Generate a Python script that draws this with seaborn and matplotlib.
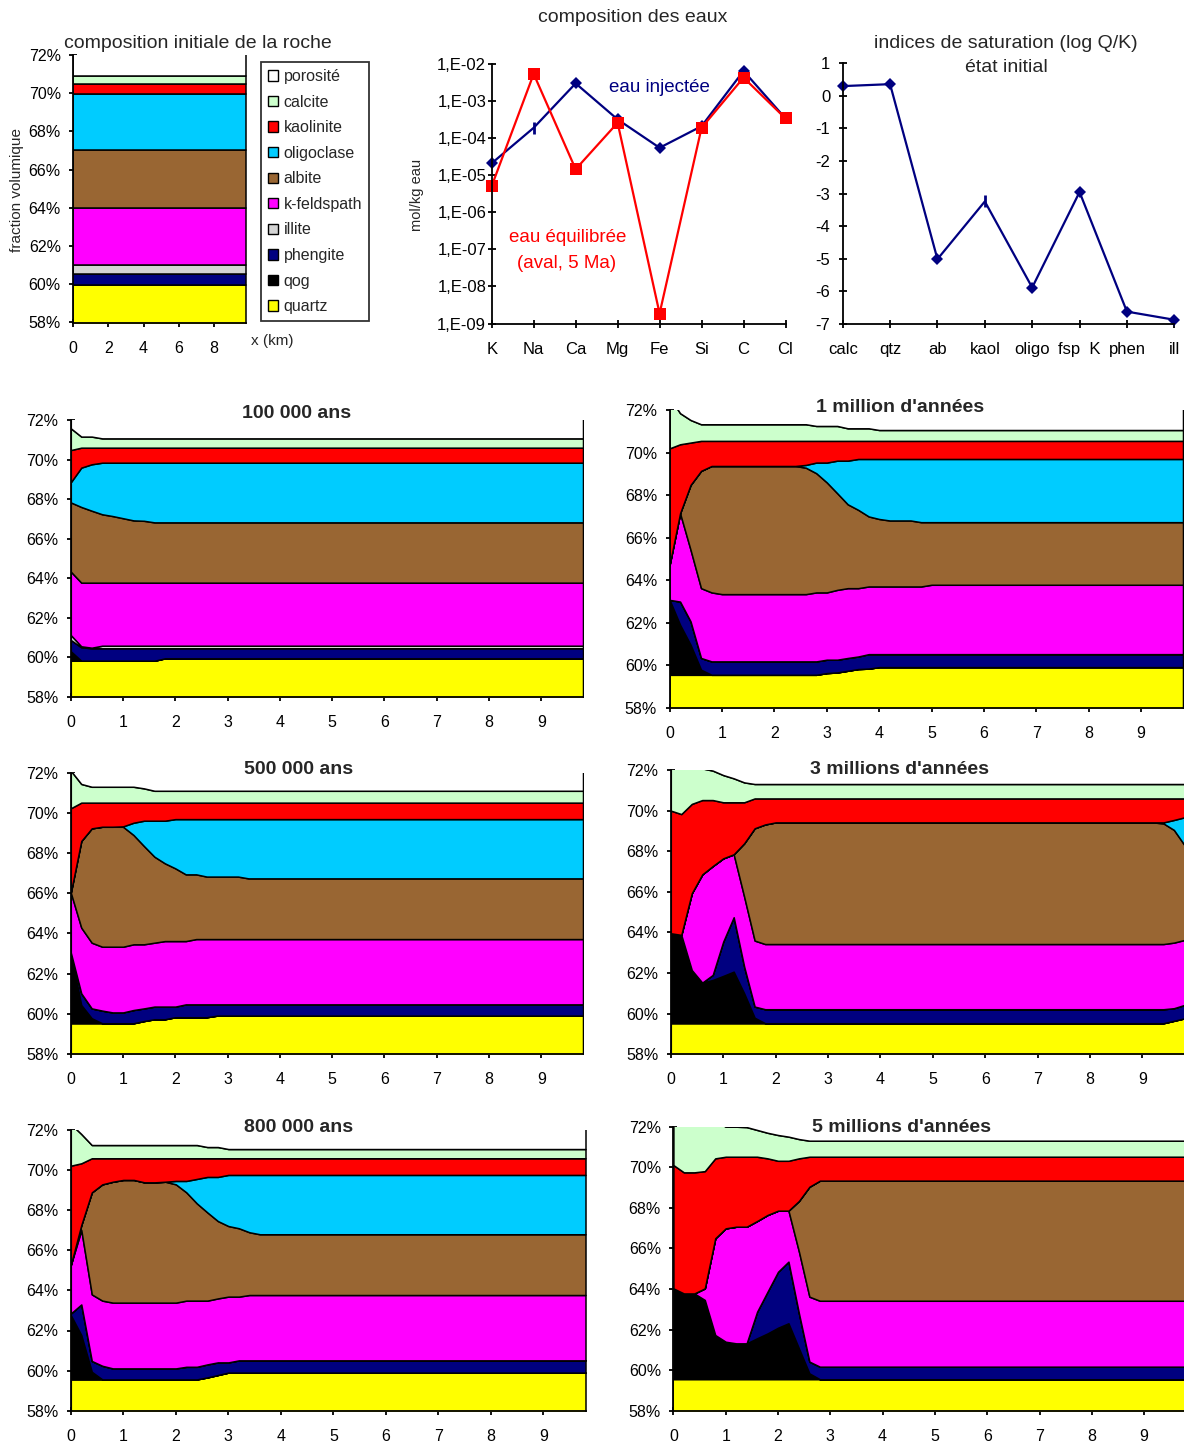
import numpy as np
import pandas as pd
import matplotlib
matplotlib.use("Agg")
import matplotlib.pyplot as plt
import seaborn as sns
from matplotlib.patches import Patch

sns.set_style("ticks")
plt.rcParams['font.family'] = ['Liberation Sans', 'DejaVu Sans']

W, H = 1184, 1443

# ---------------- data ----------------
MINERALS = ['quartz', 'qog', 'phengite', 'illite', 'k-feldspath', 'albite',
            'oligoclase', 'kaolinite', 'calcite', 'porosité']
COLORS = ['#FFFF00', '#000000', '#000080', '#D4D4D4', '#FF00FF', '#996633',
          '#00CCFF', '#FF0000', '#CCFFCC', '#FFFFFF']

# initial rock composition (cumulative top of each layer, %)
X0 = [0, 9.8]
INIT_TOPS = [59.97, 59.97, 60.53, 61.03, 63.98, 67.03, 69.94, 70.48, 70.90]

# 100 000 ans
X1 = [0, 0.2, 0.4, 0.6, 0.8, 1.0, 1.2, 1.4, 1.6, 1.8, 9.8]
Q1 = [59.82, 59.82, 59.82, 59.82, 59.82, 59.82, 59.82, 59.82, 59.82, 59.94, 59.94]
G1 = [60.30, 59.82, 59.82, 59.82, 59.82, 59.82, 59.82, 59.82, 59.82, 59.94, 59.94]
PH1 = [60.87, 60.50, 60.45, 60.45, 60.45, 60.45, 60.45, 60.45, 60.45, 60.45, 60.45]
IL1 = [61.12, 60.55, 60.48, 60.58, 60.58, 60.58, 60.58, 60.58, 60.58, 60.58, 60.58]
KF1 = [64.33, 63.77, 63.77, 63.77, 63.77, 63.77, 63.77, 63.77, 63.77, 63.77, 63.77]
AB1 = [67.83, 67.60, 67.41, 67.23, 67.14, 67.03, 66.92, 66.90, 66.82, 66.82, 66.82]
OL1 = [68.85, 69.59, 69.76, 69.84, 69.84, 69.84, 69.84, 69.84, 69.84, 69.84, 69.84]
KA1 = [70.48, 70.60, 70.60, 70.60, 70.60, 70.60, 70.60, 70.60, 70.60, 70.60, 70.60]
CA1 = [71.58, 71.16, 71.16, 71.07, 71.07, 71.07, 71.07, 71.07, 71.07, 71.07, 71.07]

# 1 million d'annees
X2 = [0, 0.2, 0.4, 0.6, 0.8, 1.0, 1.2, 1.4, 1.6, 1.8, 2.0, 2.2, 2.4, 2.6, 2.8,
      3.0, 3.2, 3.4, 3.6, 3.8, 4.0, 4.2, 4.4, 4.6, 4.8, 5.0, 9.8]
Q2 = [59.56, 59.56, 59.56, 59.56, 59.56, 59.56, 59.56, 59.56, 59.56, 59.56, 59.56, 59.56, 59.56, 59.56, 59.56,
      59.64, 59.67, 59.75, 59.83, 59.85, 59.92, 59.92, 59.92, 59.92, 59.92, 59.92, 59.92]
G2 = [63.08, 61.91, 60.97, 59.80, 59.56, 59.56, 59.56, 59.56, 59.56, 59.56, 59.56, 59.56, 59.56, 59.56, 59.56,
      59.64, 59.67, 59.75, 59.83, 59.85, 59.92, 59.92, 59.92, 59.92, 59.92, 59.92, 59.92]
PH2 = [63.08, 63.00, 62.07, 60.35, 60.19, 60.19, 60.19, 60.19, 60.19, 60.19, 60.19, 60.19, 60.19, 60.19, 60.19,
       60.27, 60.27, 60.35, 60.42, 60.53, 60.53, 60.53, 60.53, 60.53, 60.53, 60.53, 60.53]
IL2 = PH2
KF2 = [64.73, 67.15, 65.43, 63.63, 63.43, 63.35, 63.35, 63.35, 63.35, 63.35, 63.35, 63.35, 63.35, 63.35, 63.43,
       63.43, 63.55, 63.63, 63.63, 63.71, 63.71, 63.71, 63.71, 63.71, 63.71, 63.79, 63.79]
AB2 = [64.73, 67.15, 68.48, 69.14, 69.37, 69.37, 69.37, 69.37, 69.37, 69.37, 69.37, 69.37, 69.37, 69.29, 69.03,
       68.60, 68.09, 67.57, 67.31, 67.00, 66.88, 66.81, 66.81, 66.81, 66.73, 66.73, 66.73]
OL2 = [64.73, 67.15, 68.48, 69.14, 69.37, 69.37, 69.37, 69.37, 69.37, 69.37, 69.37, 69.37, 69.37, 69.42, 69.53,
       69.53, 69.62, 69.62, 69.70, 69.70, 69.70, 69.70, 69.70, 69.70, 69.70, 69.70, 69.70]
KA2 = [70.20, 70.39, 70.47, 70.55, 70.55, 70.55, 70.55, 70.55, 70.55, 70.55, 70.55, 70.55, 70.55, 70.55, 70.55,
       70.55, 70.55, 70.55, 70.55, 70.55, 70.55, 70.55, 70.55, 70.55, 70.55, 70.55, 70.55]
CA2 = [72.60, 71.85, 71.53, 71.33, 71.33, 71.33, 71.33, 71.33, 71.33, 71.33, 71.33, 71.33, 71.33, 71.33, 71.25,
       71.25, 71.25, 71.14, 71.14, 71.14, 71.06, 71.06, 71.06, 71.06, 71.06, 71.06, 71.06]

# 500 000 ans
X3 = [0, 0.2, 0.4, 0.6, 0.8, 1.0, 1.2, 1.4, 1.6, 1.8, 2.0, 2.2, 2.4, 2.6, 2.8, 3.0, 3.2, 3.4, 9.8]
Q3 = [59.53, 59.53, 59.53, 59.53, 59.53, 59.53, 59.53, 59.64, 59.73, 59.73, 59.83, 59.83, 59.83, 59.83,
      59.91, 59.91, 59.91, 59.91, 59.91]
G3 = [63.00, 60.44, 59.78, 59.53, 59.53, 59.53, 59.53, 59.64, 59.73, 59.73, 59.83, 59.83, 59.83, 59.83,
      59.91, 59.91, 59.91, 59.91, 59.91]
PH3 = [63.05, 61.02, 60.27, 60.16, 60.07, 60.07, 60.19, 60.27, 60.36, 60.36, 60.36, 60.47, 60.47, 60.47,
       60.47, 60.47, 60.47, 60.47, 60.47]
IL3 = PH3
KF3 = [66.03, 64.29, 63.54, 63.34, 63.34, 63.34, 63.46, 63.46, 63.54, 63.62, 63.62, 63.62, 63.72, 63.72,
       63.72, 63.72, 63.72, 63.72, 63.72]
AB3 = [66.03, 68.60, 69.23, 69.31, 69.31, 69.31, 68.90, 68.35, 67.82, 67.49, 67.24, 66.94, 66.94, 66.83,
       66.83, 66.83, 66.83, 66.74, 66.74]
OL3 = [66.03, 68.60, 69.23, 69.31, 69.31, 69.33, 69.51, 69.61, 69.61, 69.61, 69.69, 69.69, 69.69, 69.69,
       69.69, 69.69, 69.69, 69.69, 69.69]
KA3 = [70.23, 70.51, 70.51, 70.51, 70.51, 70.51, 70.51, 70.51, 70.51, 70.51, 70.51, 70.51, 70.51, 70.51,
       70.51, 70.51, 70.51, 70.51, 70.51]
CA3 = [72.10, 71.44, 71.30, 71.30, 71.30, 71.30, 71.30, 71.22, 71.10, 71.10, 71.10, 71.10, 71.10, 71.10,
       71.10, 71.10, 71.10, 71.10, 71.10]

# 3 millions d'annees
X4 = [0, 0.2, 0.4, 0.6, 0.8, 1.0, 1.2, 1.4, 1.6, 1.8, 2.0, 9.2, 9.4, 9.6, 9.8]
Q4 = [59.53, 59.53, 59.53, 59.53, 59.53, 59.53, 59.53, 59.53, 59.53, 59.53, 59.53, 59.53, 59.53, 59.65, 59.77]
G4 = [63.96, 63.88, 62.15, 61.53, 61.66, 61.86, 62.07, 61.00, 59.80, 59.53, 59.53, 59.53, 59.53, 59.65, 59.77]
PH4 = [63.96, 63.88, 62.15, 61.53, 61.91, 63.55, 64.75, 62.32, 60.35, 60.22, 60.22, 60.22, 60.22, 60.27, 60.43]
IL4 = PH4
KF4 = [63.96, 63.88, 65.93, 66.86, 67.27, 67.65, 67.85, 65.76, 63.60, 63.43, 63.43, 63.43, 63.43, 63.50, 63.63]
AB4 = [63.96, 63.88, 65.93, 66.86, 67.27, 67.65, 67.85, 68.39, 69.13, 69.32, 69.42, 69.42, 69.37, 69.05, 68.31]
OL4 = [63.96, 63.88, 65.93, 66.86, 67.27, 67.65, 67.85, 68.39, 69.13, 69.32, 69.42, 69.42, 69.42, 69.54, 69.67]
KA4 = [70.00, 69.83, 70.33, 70.52, 70.52, 70.41, 70.41, 70.41, 70.60, 70.60, 70.60, 70.60, 70.60, 70.60, 70.60]
CA4 = [72.50, 72.40, 72.30, 72.08, 71.97, 71.75, 71.59, 71.39, 71.31, 71.31, 71.31, 71.31, 71.31, 71.31, 71.31]

# 800 000 ans
X5 = [0, 0.2, 0.4, 0.6, 0.8, 1.0, 1.2, 1.4, 1.6, 1.8, 2.0, 2.2, 2.4, 2.6, 2.8, 3.0, 3.2, 3.4, 3.6, 9.8]
Q5 = [59.56, 59.56, 59.56, 59.56, 59.56, 59.56, 59.56, 59.56, 59.56, 59.56, 59.56, 59.56, 59.56, 59.66,
      59.78, 59.90, 59.90, 59.90, 59.90, 59.90]
G5 = [62.77, 61.77, 59.94, 59.56, 59.56, 59.56, 59.56, 59.56, 59.56, 59.56, 59.56, 59.56, 59.56, 59.66,
      59.78, 59.90, 59.90, 59.90, 59.90, 59.90]
PH5 = [62.85, 63.30, 60.48, 60.24, 60.11, 60.11, 60.11, 60.11, 60.11, 60.11, 60.11, 60.19, 60.19, 60.31,
       60.41, 60.41, 60.51, 60.51, 60.51, 60.51]
IL5 = PH5
KF5 = [65.27, 67.01, 63.80, 63.49, 63.39, 63.39, 63.39, 63.39, 63.39, 63.39, 63.39, 63.49, 63.49, 63.49,
       63.60, 63.69, 63.69, 63.77, 63.77, 63.77]
AB5 = [65.27, 67.26, 68.89, 69.29, 69.42, 69.51, 69.51, 69.39, 69.39, 69.42, 69.29, 68.89, 68.34, 67.89,
       67.46, 67.21, 67.10, 66.90, 66.80, 66.80]
OL5 = [65.27, 67.26, 68.89, 69.29, 69.42, 69.51, 69.51, 69.39, 69.39, 69.42, 69.46, 69.46, 69.56, 69.66,
       69.66, 69.76, 69.76, 69.76, 69.76, 69.76]
KA5 = [70.22, 70.34, 70.59, 70.59, 70.59, 70.59, 70.59, 70.59, 70.59, 70.59, 70.59, 70.59, 70.59, 70.59,
       70.59, 70.59, 70.59, 70.59, 70.59, 70.59]
CA5 = [72.30, 71.80, 71.25, 71.25, 71.25, 71.25, 71.25, 71.25, 71.25, 71.25, 71.25, 71.25, 71.25, 71.15,
       71.15, 71.05, 71.05, 71.05, 71.05, 71.05]

# 5 millions d'annees
X6 = [0, 0.2, 0.4, 0.6, 0.8, 1.0, 1.2, 1.4, 1.6, 1.8, 2.0, 2.2, 2.4, 2.6, 2.8, 9.8]
Q6 = [59.55, 59.55, 59.55, 59.55, 59.55, 59.55, 59.55, 59.55, 59.55, 59.55, 59.55, 59.55, 59.55, 59.55, 59.55, 59.55]
G6 = [64.03, 63.78, 63.78, 63.46, 61.73, 61.40, 61.32, 61.32, 61.57, 61.81, 62.09, 62.31, 61.07, 59.84, 59.55, 59.55]
PH6 = [64.03, 63.78, 63.78, 63.46, 61.73, 61.40, 61.32, 61.32, 62.88, 63.87, 64.85, 65.35, 62.80, 60.42, 60.17, 60.17]
IL6 = PH6
KF6 = [64.03, 63.78, 63.78, 64.03, 66.50, 66.99, 67.07, 67.07, 67.35, 67.65, 67.86, 67.86, 65.84, 63.62, 63.42, 63.42]
AB6 = [64.03, 63.78, 63.78, 64.03, 66.50, 66.99, 67.07, 67.07, 67.35, 67.65, 67.86, 67.86, 68.34, 69.04, 69.34, 69.34]
OL6 = AB6
KA6 = [70.11, 69.75, 69.75, 69.81, 70.44, 70.52, 70.52, 70.52, 70.52, 70.44, 70.32, 70.32, 70.44, 70.52, 70.52, 70.52]
CA6 = [72.30, 72.30, 72.30, 72.30, 72.30, 72.00, 72.00, 71.98, 71.84, 71.70, 71.59, 71.51, 71.39, 71.31, 71.31, 71.31]

# water composition (mol/kg eau)
ELEMENTS = ['K', 'Na', 'Ca', 'Mg', 'Fe', 'Si', 'C', 'Cl']
EAU_INJ = [2.1e-5, 1.9e-4, 3.0e-3, 3.2e-4, 5.5e-5, 2.1e-4, 6.5e-3, 3.4e-4]
EAU_EQ = [5.1e-6, 5.4e-3, 1.45e-5, 2.6e-4, 1.86e-9, 1.9e-4, 4.3e-3, 3.4e-4]

# saturation indices
SAT_LABELS = ['calc', 'qtz', 'ab', 'kaol', 'oligo', 'fsp  K', 'phen', 'ill']
SAT_VALUES = [0.30, 0.36, -5.01, -3.24, -5.88, -2.95, -6.62, -6.87]

PCT_TICKS = [58, 60, 62, 64, 66, 68, 70, 72]

# ---------------- figure ----------------
fig = plt.figure(figsize=(W / 100, H / 100), dpi=100)


def add_ax(left, right, top, bottom):
    return fig.add_axes([left / W, 1 - bottom / H, (right - left) / W, (bottom - top) / H])


def ftext(x, y, s, **kw):
    fig.text(x / W, 1 - y / H, s, ha=kw.pop('ha', 'center'), va=kw.pop('va', 'center'), **kw)


def style_axes(ax, labelsize=11.5, xpad=10, ypad=6):
    sns.despine(ax=ax)
    for sp in ('left', 'bottom'):
        ax.spines[sp].set_linewidth(1.3)
        ax.spines[sp].set_color('black')
    ax.tick_params(direction='inout', length=6, width=1.3, colors='black', labelsize=labelsize)
    ax.tick_params(axis='x', pad=xpad)
    ax.tick_params(axis='y', pad=ypad)
    ax.minorticks_off()


def stacked(ax, x, tops, xticks):
    lower = np.zeros(len(x))
    layers = [np.asarray(t, dtype=float) for t in tops] + [np.full(len(x), 100.0)]
    for top, color in zip(layers, COLORS):
        ax.fill_between(x, lower, top, facecolor=color, edgecolor='black', linewidth=1.1)
        lower = top
    ax.set_xlim(0, 9.8)
    ax.set_ylim(58, 72)
    ax.set_yticks(PCT_TICKS)
    ax.set_yticklabels([f"{v}%" for v in PCT_TICKS])
    ax.set_xticks(xticks)
    ax.set_xticklabels([str(v) for v in xticks])
    style_axes(ax)


# ---- top-left: initial composition ----
ax0 = add_ax(73.3, 245.5, 55, 322.5)
stacked(ax0, X0, [[v, v] for v in INIT_TOPS], [0, 2, 4, 6, 8])
ftext(198, 43, "composition initiale de la roche", fontsize=14)
ftext(17, 190, "fraction volumique", fontsize=11, rotation=90)
ftext(272, 341, "x (km)", fontsize=11)

handles = [Patch(facecolor=c, edgecolor='black', linewidth=1.0, label=m)
           for m, c in zip(MINERALS, COLORS)][::-1]
leg = fig.legend(handles=handles, loc='upper left', bbox_to_anchor=(261 / W, 1 - 62 / H),
                 frameon=True, fancybox=False, edgecolor='black', fontsize=11.5,
                 handlelength=0.62, handleheight=0.62, handletextpad=0.35,
                 labelspacing=0.66, borderpad=0.45, borderaxespad=0)
leg.get_frame().set_linewidth(1.3)

# ---- top-middle: water composition ----
ax_w = add_ax(491.7, 785.5, 64, 323.5)
pos = np.arange(len(ELEMENTS))
df_w = pd.DataFrame({'pos': pos, 'inj': EAU_INJ, 'eq': EAU_EQ})
sns.lineplot(data=df_w, x='pos', y='inj', ax=ax_w, color='#000080', linewidth=1.6,
             marker='D', markersize=6, markeredgewidth=0, markevery=[0, 2, 3, 4, 5, 6, 7],
             clip_on=False)
ax_w.plot([pos[1]], [EAU_INJ[1]], marker='|', markersize=9, markeredgewidth=2,
          color='#000080', linestyle='none')
sns.lineplot(data=df_w, x='pos', y='eq', ax=ax_w, color='#FF0000', linewidth=1.6,
             marker='s', markersize=8, markeredgewidth=0, clip_on=False)
ax_w.set_yscale('log')
ax_w.set_ylim(1e-9, 1e-2)
ax_w.set_xlim(0, 7)
yt = [10.0 ** e for e in range(-9, -1)]
ax_w.set_yticks(yt)
ax_w.set_yticklabels([f"1,E-0{-e}" for e in range(-9, -1)])
ax_w.set_xticks(pos)
ax_w.set_xticklabels(ELEMENTS)
ax_w.set_xlabel('')
ax_w.set_ylabel('')
style_axes(ax_w, labelsize=12, xpad=10, ypad=1)
ftext(633, 17, "composition des eaux", fontsize=14)
ftext(417, 195, "mol/kg eau", fontsize=10.5, rotation=90)
ftext(659, 87, "eau injectée", fontsize=13.5, color='#000080')
ftext(568, 237, "eau équilibrée", fontsize=13.5, color='#FF0000')
ftext(567, 263, "(aval, 5 Ma)", fontsize=13.5, color='#FF0000')

# ---- top-right: saturation indices ----
ax_s = add_ax(842.7, 1174.3, 63.3, 324)
spos = np.arange(len(SAT_LABELS))
df_s = pd.DataFrame({'pos': spos, 'si': SAT_VALUES})
sns.lineplot(data=df_s, x='pos', y='si', ax=ax_s, color='#000080', linewidth=1.6,
             marker='D', markersize=6, markeredgewidth=0, markevery=[0, 1, 2, 4, 5, 6, 7],
             clip_on=False)
ax_s.plot([spos[3]], [SAT_VALUES[3]], marker='|', markersize=9, markeredgewidth=2,
          color='#000080', linestyle='none')
ax_s.set_xlim(0, 7)
ax_s.set_ylim(-7, 1)
ax_s.set_yticks(list(range(-7, 2)))
ax_s.set_yticklabels([str(v) for v in range(-7, 2)])
ax_s.set_xticks(spos)
ax_s.set_xticklabels(SAT_LABELS)
ax_s.set_xlabel('')
ax_s.set_ylabel('')
style_axes(ax_s, labelsize=12, xpad=10, ypad=6)
ftext(1006, 43, "indices de saturation (log Q/K)", fontsize=14)
ftext(1006, 67, "état initial", fontsize=14)

# ---- bottom stacked panels ----
XT = list(range(10))
panels = [
    ((70.8, 583.0, 420, 696.7), X1, [Q1, G1, PH1, IL1, KF1, AB1, OL1, KA1, CA1], "100 000 ans", (297, 414)),
    ((669.6, 1183.0, 410, 708), X2, [Q2, G2, PH2, IL2, KF2, AB2, OL2, KA2, CA2], "1 million d'années", (900, 408)),
    ((70.8, 583.0, 772.7, 1054), X3, [Q3, G3, PH3, IL3, KF3, AB3, OL3, KA3, CA3], "500 000 ans", (299, 770)),
    ((670.8, 1184.4, 770, 1054.3), X4, [Q4, G4, PH4, IL4, KF4, AB4, OL4, KA4, CA4], "3 millions d'années", (900, 770)),
    ((70.8, 585.5, 1130, 1410.7), X5, [Q5, G5, PH5, IL5, KF5, AB5, OL5, KA5, CA5], "800 000 ans", (299, 1128)),
    ((673.4, 1186.0, 1126.7, 1410.7), X6, [Q6, G6, PH6, IL6, KF6, AB6, OL6, KA6, CA6], "5 millions d'années", (902, 1128)),
]
for (l, r, t, b), xs, tops, title, (tx, ty) in panels:
    ax = add_ax(l, r, t, b)
    stacked(ax, xs, tops, XT)
    ftext(tx, ty, title, fontsize=14, fontweight='bold')

fig.savefig("out.png", dpi=100)
